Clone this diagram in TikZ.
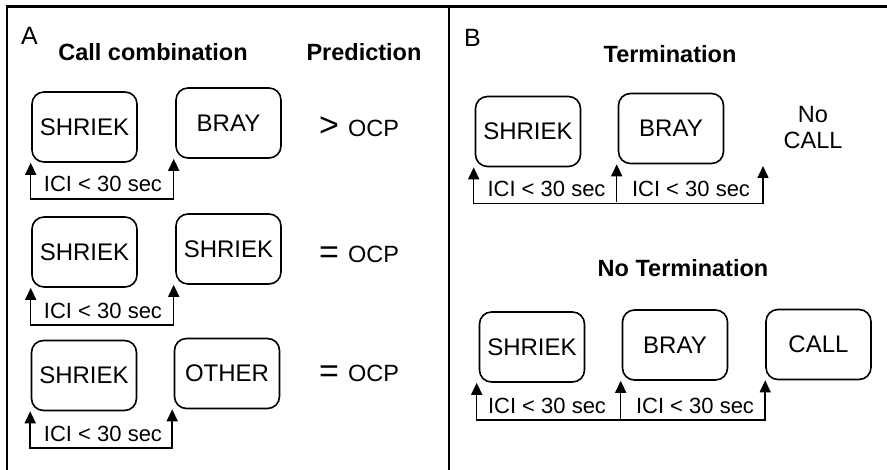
\documentclass[tikz,border=0pt]{standalone}
\usepackage{fontspec}
\setmainfont{Liberation Sans}
\usetikzlibrary{arrows.meta}
\tikzset{
  callbox/.style={draw, line width=1.6pt, rounded corners=12pt, minimum width=105pt, minimum height=70pt, inner sep=0pt, font=\fontsize{24}{28}\selectfont},
  tip/.tip={Triangle[length=12pt,width=11pt]},
  ici/.style={line width=1.5pt, tip-tip},
  icione/.style={line width=1.5pt, -tip},
  icitext/.style={anchor=base, inner sep=0pt, font=\fontsize{22}{26}\selectfont},
  head/.style={anchor=base, inner sep=0pt, font=\fontsize{23.5}{28}\selectfont\bfseries},
  panel/.style={anchor=base west, inner sep=0pt, font=\fontsize{25}{30}\selectfont},
  sym/.style={anchor=base, inner sep=0pt, font=\fontsize{34}{40}\selectfont},
  ocp/.style={anchor=base west, inner sep=0pt, font=\fontsize{23.5}{28}\selectfont},
  frame/.style={line width=2.3pt}
}
\begin{document}
\begin{tikzpicture}[x=1pt,y=-1pt]
\useasboundingbox (0,0) rectangle (887,470);
% frame
\draw[frame] (7,470) -- (7,6.5) -- (887,6.5);
\draw[frame] (449,6.5) -- (449,470);
% Panel A
\node[panel] (lA) at (21,45) {A};
\node[head] (hA1) at (153,61) {Call combination};
\node[head] (hA2) at (364,61) {Prediction};
% row 1
\node[callbox] (s1) at (84.5,127) {SHRIEK};
\node[callbox] (b1) at (228.5,123) {BRAY};
\node[sym] (p1s) at (329,137) {>};
\node[ocp] (p1) at (348,137) {OCP};
\draw[ici] ([xshift=-0.5pt]s1.south west) -- ++(0,36) -| ([xshift=-1.5pt]b1.south west);
\node[icitext] (i1) at (103,192) {ICI < 30 sec};
% row 2
\node[callbox] (s2) at (84.5,252) {SHRIEK};
\node[callbox] (b2) at (228.5,249) {SHRIEK};
\node[sym] (p2s) at (329,264) {=};
\node[ocp] (p2) at (348,263) {OCP};
\draw[ici] ([xshift=-0.5pt]s2.south west) -- ++(0,37) -| ([xshift=-1.5pt]b2.south west);
\node[icitext] (i2) at (103,319) {ICI < 30 sec};
% row 3
\node[callbox] (s3) at (84,375.5) {SHRIEK};
\node[callbox] (o3) at (227,373.5) {OTHER};
\node[sym] (p3s) at (329,383) {=};
\node[ocp] (p3) at (348,382) {OCP};
\draw[ici] ([xshift=-0.5pt]s3.south west) -- ++(0,36.5) -| ([xshift=-1.5pt]o3.south west);
\node[icitext] (i3) at (103,442) {ICI < 30 sec};
% Panel B
\node[panel] (lB) at (464,47) {B};
\node[head] (hB1) at (670,63) {Termination};
\node[callbox] (t1) at (528,131.5) {SHRIEK};
\node[callbox] (t2) at (671,128.5) {BRAY};
\node[align=center, inner sep=0pt, font=\fontsize{23.5}{26}\selectfont] (nc) at (813,128) {No\\CALL};
\coordinate (tend) at (763,166);
\draw[ici] ([xshift=-1pt]t1.south west) -- ++(0,36) -| (tend);
\draw[icione] ([xshift=-1pt]t2.south west |- 0,202) -- ([xshift=-1pt]t2.south west);
\node[icitext] (i4) at (546.5,197) {ICI < 30 sec};
\node[icitext] (i5) at (691,197) {ICI < 30 sec};
\node[head] (hB2) at (683,277) {No Termination};
\node[callbox] (n1) at (532,347) {SHRIEK};
\node[callbox] (n2) at (675,345) {BRAY};
\node[callbox] (n3) at (818.5,344.5) {CALL};
\draw[ici] ([xshift=-2pt]n1.south west) -- ++(0,37) -| (n3.south west);
\draw[icione] ([xshift=-1pt]n2.south west |- 0,419) -- ([xshift=-1pt]n2.south west);
\node[icitext] (i6) at (547,414) {ICI < 30 sec};
\node[icitext] (i7) at (695,414) {ICI < 30 sec};
\end{tikzpicture}
\end{document}
